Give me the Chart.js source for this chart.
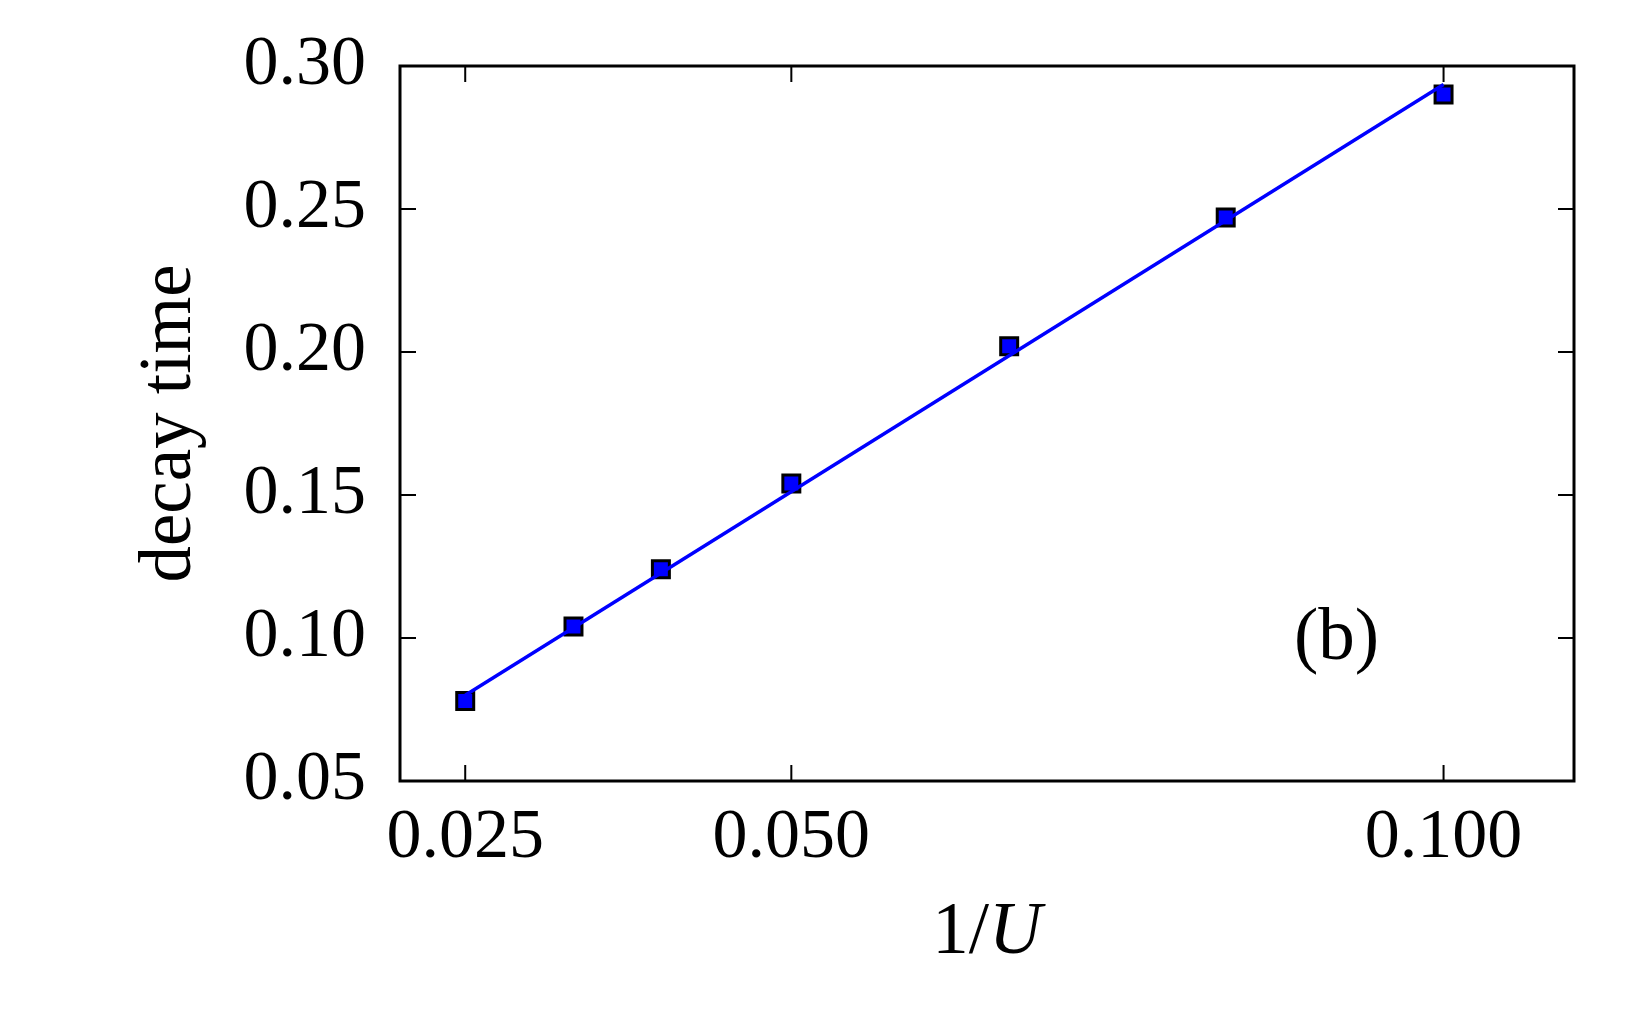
<!DOCTYPE html>
<html>
<head>
<meta charset="utf-8">
<script src="https://cdn.jsdelivr.net/npm/chart.js@4"></script>
<style>
  body { margin: 0; background: #fff; }
</style>
</head>
<body>
<canvas id="chart" width="1640" height="1013"></canvas>
<script>
const invU = [0.025, 0.0333, 0.04, 0.05, 0.0667, 0.0833, 0.1];
const decayTime = [0.078, 0.104, 0.124, 0.154, 0.202, 0.247, 0.290];
const fitX = [0.025, 0.1];
const fitY = [0.080, 0.2935];
const xTicks = [0.025, 0.05, 0.1];
const yTicks = [0.05, 0.10, 0.15, 0.20, 0.25, 0.30];
const panelLabel = '(b)';

const FONT = "'Liberation Serif', 'DejaVu Serif', serif";
const FSIZE = 70;
const TSIZE = 73;

// inward ticks on all four sides, the box, the panel tag and the x title
const frameTicks = {
  id: 'frameTicks',
  afterDraw(chart) {
    const {ctx, chartArea: a, scales: {x, y}} = chart;
    const len = 16;
    ctx.save();
    ctx.strokeStyle = '#000';
    ctx.lineWidth = 2;
    ctx.beginPath();
    xTicks.forEach(v => {
      const px = x.getPixelForValue(v);
      ctx.moveTo(px, a.bottom); ctx.lineTo(px, a.bottom - len);
      ctx.moveTo(px, a.top); ctx.lineTo(px, a.top + len);
    });
    yTicks.forEach(v => {
      const py = y.getPixelForValue(v);
      ctx.moveTo(a.left, py); ctx.lineTo(a.left + len, py);
      ctx.moveTo(a.right, py); ctx.lineTo(a.right - len, py);
    });
    ctx.stroke();
    ctx.lineWidth = 3;
    ctx.strokeRect(a.left, a.top, a.right - a.left, a.bottom - a.top);

    ctx.fillStyle = '#000';
    ctx.textBaseline = 'middle';
    ctx.textAlign = 'center';
    ctx.font = `${TSIZE}px ${FONT}`;
    ctx.fillText(panelLabel, x.getPixelForValue(0.0918), y.getPixelForValue(0.0995));

    // x title: "1/" upright, "U" italic
    const plain = `${TSIZE}px ${FONT}`;
    const ital = `italic ${TSIZE}px ${FONT}`;
    ctx.font = plain;
    const w1 = ctx.measureText('1/').width;
    ctx.font = ital;
    const w2 = ctx.measureText('U').width;
    const cx = (a.left + a.right) / 2;
    const cy = 934;
    ctx.textAlign = 'left';
    ctx.font = plain;
    ctx.fillText('1/', cx - (w1 + w2) / 2, cy);
    ctx.font = ital;
    ctx.fillText('U', cx - (w1 + w2) / 2 + w1, cy);
    ctx.restore();
  }
};

const ctx = document.getElementById('chart');

new Chart(ctx, {
  type: 'scatter',
  data: {
    datasets: [
      {
        data: fitX.map((v, i) => ({x: v, y: fitY[i]})),
        showLine: true,
        borderColor: 'rgb(0, 0, 255)',
        borderWidth: 3.5,
        pointRadius: 0,
        fill: false
      },
      {
        data: invU.map((v, i) => ({x: v, y: decayTime[i]})),
        pointStyle: 'rect',
        pointRadius: 12,
        backgroundColor: 'rgb(0, 0, 255)',
        borderColor: '#000',
        borderWidth: 3
      }
    ]
  },
  options: {
    responsive: false,
    animation: false,
    layout: {
      padding: {top: 66, right: 66, left: 0, bottom: 0}
    },
    plugins: {
      legend: {display: false},
      tooltip: {enabled: false}
    },
    scales: {
      x: {
        type: 'linear',
        min: 0.02,
        max: 0.11,
        afterBuildTicks: s => { s.ticks = xTicks.map(v => ({value: v})); },
        afterFit: s => { s.height = 232; s.paddingLeft = 0; s.paddingRight = 0; },
        grid: {display: false, drawTicks: false, tickLength: 0},
        border: {display: false},
        ticks: {
          color: '#000',
          padding: 16,
          maxRotation: 0,
          font: {family: FONT, size: FSIZE},
          callback: v => v.toFixed(3)
        }
      },
      y: {
        min: 0.05,
        max: 0.30,
        afterBuildTicks: s => { s.ticks = yTicks.map(v => ({value: v})); },
        afterFit: s => { s.width = 400; s.paddingTop = 0; s.paddingBottom = 0; },
        grid: {display: false, drawTicks: false, tickLength: 0},
        border: {display: false},
        title: {
          display: true,
          text: 'decay time',
          color: '#000',
          padding: {top: 127, bottom: 0},
          font: {family: FONT, size: TSIZE}
        },
        ticks: {
          color: '#000',
          padding: 34,
          font: {family: FONT, size: FSIZE},
          callback: v => v.toFixed(2)
        }
      }
    }
  },
  plugins: [frameTicks]
});
</script>
</body>
</html>
